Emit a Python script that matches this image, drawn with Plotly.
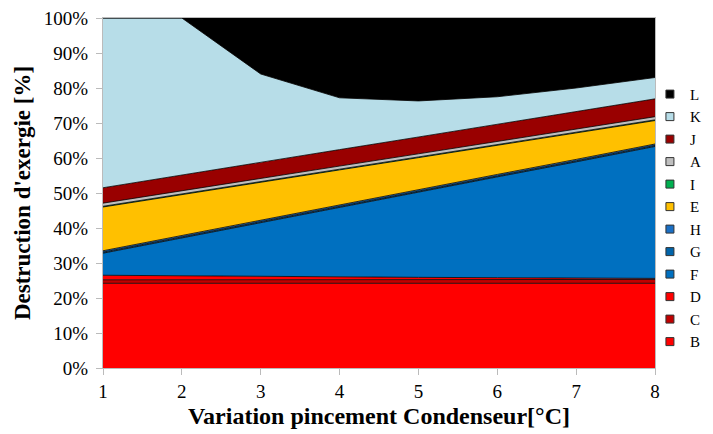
import plotly.graph_objects as go

x_vals = [1, 2, 3, 4, 5, 6, 7, 8]

series_names = ["B", "C", "D", "F", "G", "H", "E", "I", "A", "J", "K", "L"]
B = [24.2, 24.2, 24.2, 24.2, 24.2, 24.2, 24.2, 24.2]
C = [1.0, 1.0, 1.0, 1.0, 1.0, 1.0, 1.0, 1.1]
D = [1.3, 1.1, 1.0, 0.8, 0.7, 0.6, 0.4, 0.3]
F = [6.3, 10.9, 15.3, 19.9, 24.3, 28.8, 33.3, 37.7]
G = [0.3, 0.3, 0.3, 0.3, 0.3, 0.3, 0.3, 0.3]
H = [0.4, 0.4, 0.4, 0.4, 0.4, 0.4, 0.4, 0.4]
E = [12.5, 11.7, 10.8, 10.0, 9.2, 8.3, 7.5, 6.7]
I = [0.2, 0.2, 0.2, 0.2, 0.2, 0.2, 0.2, 0.2]
A = [0.9, 0.9, 0.9, 0.9, 0.9, 0.9, 0.9, 0.9]
J = [4.4, 4.5, 4.6, 4.7, 4.8, 4.9, 5.0, 5.1]
K = [48.5, 44.8, 25.3, 14.8, 10.3, 7.9, 6.8, 6.1]
L = [0.0, 0.0, 16.0, 22.8, 23.7, 22.5, 20.0, 17.0]

series_values = [B, C, D, F, G, H, E, I, A, J, K, L]
colors = ["#FF0000", "#C00000", "#FF0000", "#0070C0", "#0064AA", "#1A6FC4",
          "#FFC000", "#00B050", "#BFBFBF", "#990000", "#B7DDE8", "#000000"]

y_ticks = [0, 10, 20, 30, 40, 50, 60, 70, 80, 90, 100]
y_tick_labels = [f"{v}%" for v in y_ticks]

fig = go.Figure()
for name, vals, col in zip(series_names, series_values, colors):
    fig.add_trace(go.Scatter(
        x=x_vals, y=vals, name=name, stackgroup="one", mode="lines",
        line=dict(color="black", width=0.8), fillcolor=col,
        showlegend=False, hoverinfo="skip"))
for name, col in zip(series_names, colors):
    fig.add_trace(go.Scatter(
        x=[None], y=[None], name=name, mode="markers",
        marker=dict(symbol="square", size=8, color=col,
                    line=dict(color="#333333", width=1)),
        showlegend=True))

serif = "Liberation Serif, Times New Roman, serif"
fig.update_layout(
    width=713, height=434,
    margin=dict(l=95, r=0, t=10, b=74, autoexpand=False),
    paper_bgcolor="white", plot_bgcolor="white",
    font=dict(family=serif, color="black", size=18),
    legend=dict(x=0.885, y=0.829, xanchor="left", yanchor="top",
                traceorder="reversed", font=dict(family=serif, size=15),
                itemwidth=30, tracegroupgap=0, bgcolor="rgba(0,0,0,0)"),
    xaxis=dict(domain=[0, 552 / 618], range=[1, 8], tickvals=x_vals,
               ticks="outside", ticklen=6,
               tickcolor="#BBBBBB", showline=True, linecolor="#BBBBBB",
               mirror=True, showgrid=False, zeroline=False,
               ticklabeloverflow="allow",
               tickfont=dict(family=serif, size=19),
               title=dict(text="<b>Variation pincement Condenseur[°C]</b>",
                          font=dict(family=serif, size=24), standoff=6)),
    yaxis=dict(range=[0, 100], tickvals=y_ticks, ticktext=y_tick_labels,
               ticks="outside", ticklen=6, tickcolor="#BBBBBB",
               showline=True, linecolor="#BBBBBB", mirror=True,
               showgrid=False, zeroline=False, ticklabelstandoff=4,
               ticklabeloverflow="allow",
               tickfont=dict(family=serif, size=19),
               title=dict(text="<b>Destruction d'exergie [%]</b>",
                          font=dict(family=serif, size=23), standoff=6)),
)

fig.write_html("out.html")
